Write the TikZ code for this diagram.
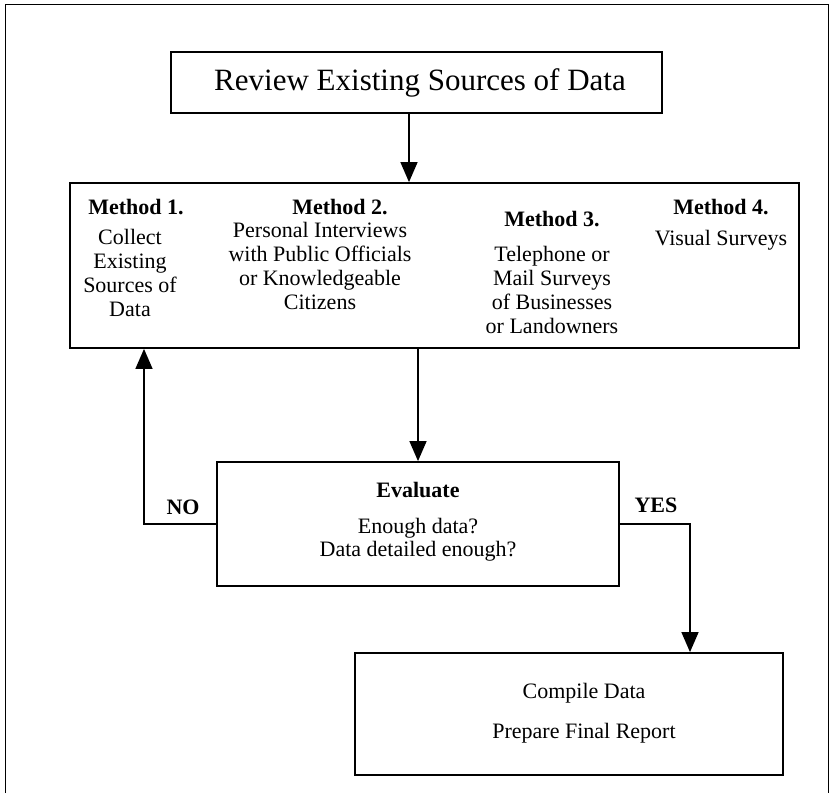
\documentclass[tikz,border=0pt]{standalone}
\usepackage{fontspec}
\setmainfont{Liberation Serif}
\usetikzlibrary{arrows.meta}
\begin{document}
\begin{tikzpicture}[x=1pt,y=-1pt,
  box/.style={draw, line width=1.8pt, inner sep=0pt},
  conn/.style={line width=1.4pt, -{Triangle[length=20pt,width=17pt]}},
  frame/.style={line width=1pt},
  mtxt/.style={font=\fontsize{22}{24}\selectfont, align=center, inner sep=0pt},
  mtitle/.style={font=\fontsize{22}{24}\selectfont\bfseries, inner sep=0pt},
  lbl/.style={font=\fontsize{22}{24}\selectfont\bfseries, inner sep=0pt}]
\useasboundingbox (0,0) rectangle (830,793);
\draw[frame] (5,793) -- (5,4) -- (828,4) -- (828,793);
% boxes
\node[box, minimum width=491pt, minimum height=61pt] (review) at (416.5,82.5) {};
\node[font=\fontsize{31}{33}\selectfont, inner sep=0pt] (reviewtxt) at (420,83) {Review Existing Sources of Data};
\node[box, minimum width=729pt, minimum height=165pt] (methods) at (434.5,265.5) {};
\node[box, minimum width=402pt, minimum height=124pt] (eval) at (418,524) {};
\node[box, minimum width=428pt, minimum height=122pt] (compile) at (569,714) {};
% method texts
\node[mtitle] (m1t) at (136,207) {Method 1.};
\node[mtxt] (m1) at (130,273) {Collect\\Existing\\Sources of\\Data};
\node[mtitle] (m2t) at (340,207) {Method 2.};
\node[mtxt] (m2) at (320,266) {Personal Interviews\\with Public Officials\\or Knowledgeable\\Citizens};
\node[mtitle] (m3t) at (552,219) {Method 3.};
\node[mtxt] (m3) at (552,290) {Telephone or\\Mail Surveys\\of Businesses\\or Landowners};
\node[mtitle] (m4t) at (721,207) {Method 4.};
\node[mtxt] (m4) at (721,240) {Visual Surveys};
% evaluate texts
\node[mtitle] (evt) at (418,490) {Evaluate};
\node[mtxt, font=\fontsize{22}{23}\selectfont] (evq) at (418,540) {Enough data?\\Data detailed enough?};
% compile texts
\node[mtxt] (c1) at (584,693) {Compile Data};
\node[mtxt] (c2) at (584,733) {Prepare Final Report};
% labels
\node[lbl] (no) at (183,507) {NO};
\node[lbl] (yes) at (656,505) {YES};
% connectors
\coordinate (nox) at (144,0);
\coordinate (yesx) at (690,0);
\draw[conn] ([xshift=-7.5pt]review.south) -- ([xshift=-7.5pt]review.south |- methods.north);
\draw[conn] (methods.south -| eval.north) -- (eval.north);
\draw[conn] (eval.west) -| (methods.south -| nox);
\draw[conn] (eval.east) -| (compile.north -| yesx);
\end{tikzpicture}
\end{document}
